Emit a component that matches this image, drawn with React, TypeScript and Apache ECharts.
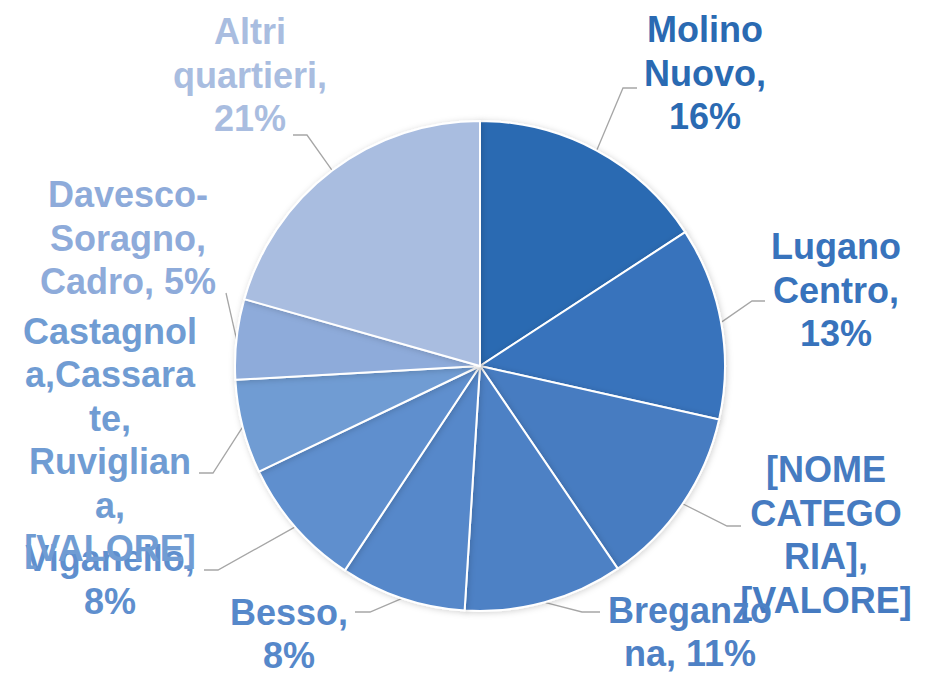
import React, { useEffect, useRef } from "react";
import * as echarts from "echarts";

const categories = [
  "Molino Nuovo",
  "Lugano Centro",
  "[NOME CATEGORIA]",
  "Breganzona",
  "Besso",
  "Viganello",
  "Castagnola,Cassarate, Ruvigliana",
  "Davesco-Soragno, Cadro",
  "Altri quartieri",
];
const values = [15.8, 12.7, 12.0, 10.5, 8.3, 8.6, 6.2, 5.3, 20.6];
const labelTexts = [
  "Molino\nNuovo,\n16%",
  "Lugano\nCentro,\n13%",
  "[NOME\nCATEGO\nRIA],\n[VALORE]",
  "Breganzo\nna, 11%",
  "Besso,\n8%",
  "Viganello,\n8%",
  "Castagnol\na,Cassara\nte,\nRuviglian\na,\n[VALORE]",
  "Davesco-\nSoragno,\nCadro, 5%",
  "Altri\nquartieri,\n21%",
];
const colors = [
  "#2A6AB2",
  "#3873BC",
  "#467BC1",
  "#4E81C5",
  "#5688CA",
  "#5F8FCE",
  "#709CD3",
  "#8EABDA",
  "#A9BDE0",
];
// label block centres and leader-line elbow/end points (layout only)
const labelPos = [
  { x: 705, y: 73, elbow: [623, 88], end: [637, 88] },
  { x: 836, y: 290, elbow: [752, 301], end: [765, 301] },
  { x: 826, y: 535, elbow: [727, 526], end: [741, 526] },
  { x: 690, y: 632, elbow: [582, 612], end: [600, 612] },
  { x: 289, y: 634, elbow: [370, 612], end: [355, 612] },
  { x: 110, y: 580, elbow: [218, 570], end: [204, 570] },
  { x: 110, y: 440, elbow: [213, 473], end: [199, 473] },
  { x: 128, y: 238, elbow: [226, 293], end: [226, 293] },
  { x: 250, y: 75, elbow: [307, 135], end: [293, 135] },
];

export default function App() {
  const ref = useRef<HTMLDivElement>(null);
  useEffect(() => {
    document.body.style.margin = "0";
    const chart = echarts.init(ref.current!, undefined, { renderer: "svg" });
    chart.setOption({
      animation: false,
      backgroundColor: "#ffffff",
      series: [
        {
          type: "pie",
          center: [480, 366],
          radius: [0, 245],
          startAngle: 90,
          clockwise: true,
          avoidLabelOverlap: false,
          data: categories.map((name, i) => ({
            name,
            value: values[i],
            itemStyle: { color: colors[i] },
            label: { color: colors[i] },
          })),
          itemStyle: {
            borderColor: "#ffffff",
            borderWidth: 2,
            shadowBlur: 6,
            shadowColor: "rgba(0,0,0,0.18)",
            shadowOffsetX: 1,
            shadowOffsetY: 1,
          },
          label: {
            show: true,
            position: "outside",
            formatter: (p: any) => labelTexts[p.dataIndex],
            fontFamily: "'Liberation Sans', Arial, sans-serif",
            fontWeight: "bold",
            fontSize: 36,
            lineHeight: 43.5,
            align: "center",
          },
          labelLine: {
            show: true,
            length: 10,
            length2: 10,
            lineStyle: { color: "#A6A6A6", width: 1.3 },
          },
          labelLayout: (params: any) => {
            const lp = labelPos[params.dataIndex];
            const start =
              params.labelLinePoints && params.labelLinePoints[0]
                ? params.labelLinePoints[0]
                : lp.elbow;
            return {
              x: lp.x,
              y: lp.y,
              align: "center",
              verticalAlign: "middle",
              labelLinePoints: [start, lp.elbow, lp.end],
            };
          },
        },
      ],
    });
    return () => chart.dispose();
  }, []);
  return <div ref={ref} style={{ width: 935, height: 675 }} />;
}
